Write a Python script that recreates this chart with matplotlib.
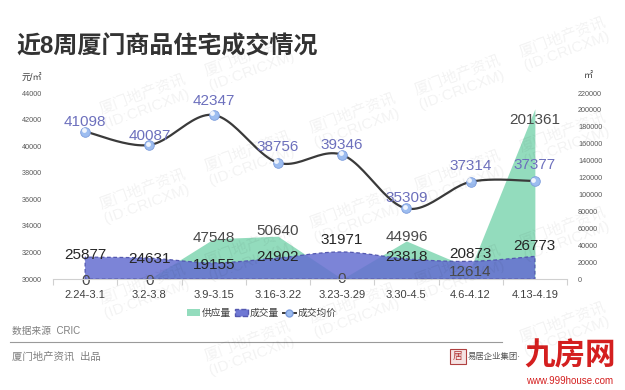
import numpy as np
import matplotlib
matplotlib.use("Agg")
import matplotlib.pyplot as plt
from matplotlib.patches import Patch, Polygon, Rectangle
from matplotlib.lines import Line2D

plt.rcParams['font.family'] = ['Liberation Sans', 'Noto Sans CJK SC', 'DejaVu Sans']

# ---------------- data ----------------
weeks = ["2.24-3.1", "3.2-3.8", "3.9-3.15", "3.16-3.22", "3.23-3.29", "3.30-4.5", "4.6-4.12", "4.13-4.19"]
supply = [0, 0, 47548, 50640, 0, 44996, 12614, 201361]          # 供应量 ㎡
deals = [25877, 24631, 19155, 24902, 31971, 23818, 20873, 26773]   # 成交量 ㎡
price = [41098, 40087, 42347, 38756, 39346, 35309, 37314, 37377]   # 成交均价 元/㎡
price_ticks = [30000, 32000, 34000, 36000, 38000, 40000, 42000, 44000]
area_ticks = [0, 20000, 40000, 60000, 80000, 100000, 120000, 140000, 160000, 180000, 200000, 220000]
title = "近8周厦门商品住宅成交情况"
legend_labels = ["供应量", "成交量", "成交均价"]

# label offsets in pixels (style only)
supply_dy = [-2, -2, 1, 5, 0, 4, -4, -11]
deals_dy = [2, -1, -2, 1, 12, 2, 7, 10]
price_dy = [10, 9, 14, 16, 10, 10, 16, 16]


def smooth(xs, ys, n=24):
    pts = np.column_stack([xs, ys]).astype(float)
    P = np.vstack([pts[0], pts, pts[-1]])
    out = []
    t = np.linspace(0, 1, n, endpoint=False)[:, None]
    for i in range(1, len(P) - 2):
        p0, p1, p2, p3 = P[i - 1], P[i], P[i + 1], P[i + 2]
        c1 = p1 + (p2 - p0) / 6
        c2 = p2 - (p3 - p1) / 6
        b = (1 - t) ** 3 * p1 + 3 * (1 - t) ** 2 * t * c1 + 3 * (1 - t) * t ** 2 * c2 + t ** 3 * p2
        out.append(b)
    out.append(pts[-1:])
    c = np.vstack(out)
    return c[:, 0], c[:, 1]


W, H = 625, 390
fig = plt.figure(figsize=(W / 100, H / 100), dpi=100)
fig.patch.set_facecolor('white')

ax = fig.add_axes([53 / W, 1 - 279 / H, (567 - 53) / W, (279 - 93) / H])
ax2 = ax.twinx()
ax.set_zorder(ax2.get_zorder() + 1)
ax.patch.set_visible(False)

x = np.arange(len(weeks))
px_pt = 0.72  # pixels -> points

# supply area (green)
ax2.fill_between(x, supply, 0, color='#93dcbd', lw=0, zorder=1)
# deals area (purple, smooth top, dashed border)
sx, sy = smooth(x, deals)
poly = np.vstack([[x[0], 0], np.column_stack([sx, sy]), [x[-1], 0]])
ax2.add_patch(Polygon(poly, closed=True, facecolor='#656ed1', alpha=0.85, edgecolor='none', zorder=2))
ax2.add_patch(Polygon(poly, closed=True, facecolor='none', edgecolor='#5458b0', lw=0.9,
                      linestyle=(0, (3, 2)), zorder=3))

ax2.set_ylim(0, 220000)
ax.set_ylim(30000, 44000)
ax.set_xlim(-0.5, len(weeks) - 0.5)

# price line
px, py = smooth(x, price)
ax.plot(px, py, color='#3a3a3a', lw=1.6, zorder=4)
ax.scatter(x, price, s=48, color='#9dbdf0', edgecolor='#7c9cdc', lw=0.6, zorder=5)
ax.scatter(x - 0.025, np.array(price) + 110, s=12, color='white', alpha=0.85, lw=0, zorder=6)

# labels
for xi, v, d in zip(x, supply, supply_dy):
    ax2.annotate(f"{v}", (xi, v), xytext=(0, d * px_pt), textcoords='offset points',
                 ha='center', va='center', fontsize=11, color='#4a4a4a', zorder=7)
for xi, v, d in zip(x, deals, deals_dy):
    ax2.annotate(f"{v}", (xi, v), xytext=(0, d * px_pt), textcoords='offset points',
                 ha='center', va='center', fontsize=11, color='#262626', zorder=7)
for xi, v, d in zip(x, price, price_dy):
    ax.annotate(f"{v}", (xi, v), xytext=(0, d * px_pt), textcoords='offset points',
                ha='center', va='center', fontsize=11, color='#6d70bd', zorder=8)

# axes styling
ax.set_xticks(x)
ax.set_xticklabels(weeks, fontsize=8, color='#404040')
ax.set_xticks(np.arange(len(weeks) + 1) - 0.5, minor=True)
ax.tick_params(axis='x', which='major', length=0, pad=8)
ax.tick_params(axis='x', which='minor', length=4, color='#d0d0d0', width=0.8)
ax.set_yticks(price_ticks)
ax.set_yticklabels([str(t) for t in price_ticks], fontsize=5.2, color='#595959')
ax.tick_params(axis='y', length=0, pad=8)
ax2.set_yticks(area_ticks)
ax2.set_yticklabels([str(t) for t in area_ticks], fontsize=5.2, color='#595959')
ax2.tick_params(axis='y', length=0, pad=8)
for a in (ax, ax2):
    for s in ['top', 'left', 'right']:
        a.spines[s].set_visible(False)
    a.spines['bottom'].set_color('#d0d0d0')
ax2.spines['bottom'].set_visible(False)

# units
fig.text(22 / W, 1 - 78 / H, "元/㎡", fontsize=6.5, color='#404040', va='center', ha='left')
fig.text(588 / W, 1 - 75 / H, "㎡", fontsize=6.5, color='#404040', va='center', ha='center')

# title
fig.text(16 / W, 1 - 47 / H, title, fontsize=17.3, fontweight='bold', color='#333333',
         va='center', ha='left')

# legend
handles = [Patch(facecolor='#93dcbd', edgecolor='none'),
           Patch(facecolor='#6f78d4', edgecolor='#5458b0', linestyle='--'),
           Line2D([0], [0], color='#3a3a3a', lw=1.4, marker='o', markersize=5,
                  markerfacecolor='#9dbdf0', markeredgecolor='#7c9cdc')]
fig.legend(handles, legend_labels, loc='center', bbox_to_anchor=(262 / W, 1 - 313 / H),
           ncol=3, frameon=False, fontsize=7, handlelength=1.3, handleheight=0.7,
           columnspacing=0.4, handletextpad=0.2, labelcolor='#404040', borderpad=0.1)

# footer
fig.text(12 / W, 1 - 331 / H, "数据来源  CRIC", fontsize=7, color='#7f7f7f', va='center', ha='left')
fig.add_artist(Line2D([10 / W, 502 / W], [1 - 342 / H, 1 - 342 / H], color='#9a9a9a', lw=0.8))
fig.text(12 / W, 1 - 357 / H, "厦门地产资讯  出品", fontsize=7.5, color='#7f7f7f', va='center', ha='left')

# logo
fig.add_artist(Rectangle((450 / W, 1 - 364 / H), 16 / W, 15 / H, facecolor='#f5e3e3',
                         edgecolor='#b04040', lw=0.8))
fig.text(458 / W, 1 - 356.5 / H, "居", fontsize=7, color='#b03030', va='center', ha='center')
fig.text(468 / W, 1 - 357 / H, "易居企业集团·", fontsize=6, color='#555555', va='center', ha='left')
fig.text(570 / W, 1 - 356 / H, "九房网", fontsize=22, color='#d41f1f', va='center', ha='center',
         fontweight='bold')
fig.text(570 / W, 1 - 381 / H, "www.999house.com", fontsize=7, color='#d41f1f', va='center', ha='center')

# watermark
ang = 20
for row in range(-3, 7):
    for col in range(0, 8):
        cx = 40 + col * 105
        cy = 40 + row * 95 - col * 105 * np.tan(np.radians(ang)) + 100
        if 50 < cx < W - 50 and 35 < cy < H - 30:
            fig.text(cx / W, 1 - cy / H, "厦门地产资讯\n(ID:CRICXM)", fontsize=11, color='#000000',
                     alpha=0.05, rotation=ang, ha='center', va='center', linespacing=1.1,
                     zorder=10, multialignment='left')

fig.savefig("out.png", dpi=100)
